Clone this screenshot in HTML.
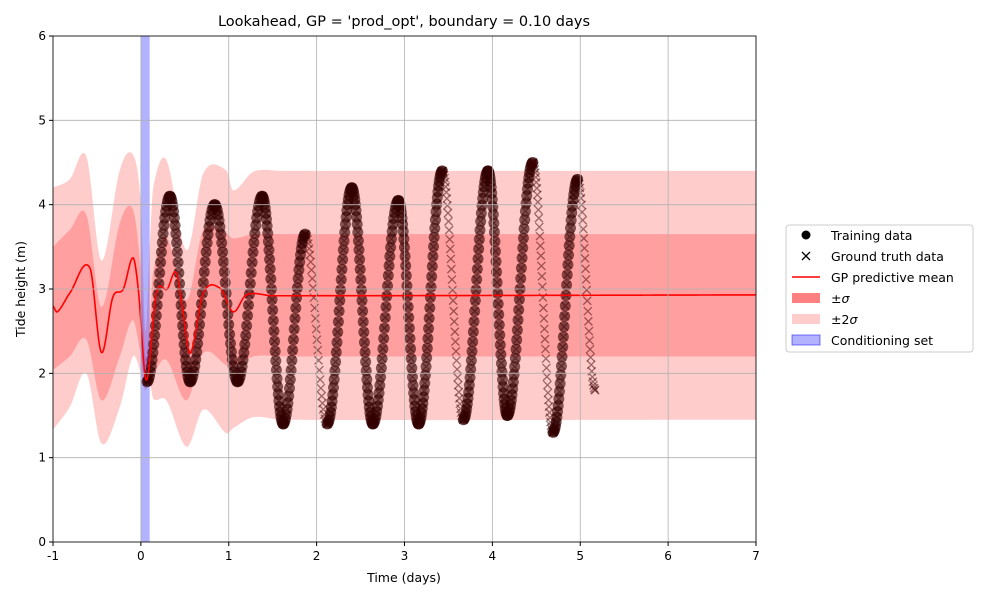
<!DOCTYPE html>
<html><head><meta charset="utf-8"><style>
body{margin:0;background:#fff;font-family:"Liberation Sans","DejaVu Sans",sans-serif}
</style></head><body>
<svg id="chart" width="1000" height="600" xmlns="http://www.w3.org/2000/svg" font-family="DejaVu Sans, Liberation Sans, sans-serif"></svg>
<script>
// ---- data ----
const meanT=[-1,-0.95,-0.81,-0.58,-0.45,-0.32,-0.2,-0.09,-0.03,0.062,0.176,0.3,0.40,0.47,0.56,0.71,0.90,1.05,1.2,1.5,7];
const meanV=[2.8,2.73,2.95,3.25,2.25,2.9,3.0,3.37,3.0,1.92,2.95,3.0,3.2,2.8,2.24,2.95,3.01,2.73,2.93,2.92,2.93];
const bandT=[-1,-0.81,-0.62,-0.45,-0.24,-0.09,0.0,0.05,0.1,0.14,0.29,0.52,0.71,0.97,1.05,1.28,1.6,7];
const up2=[4.2,4.3,4.57,3.34,4.41,4.59,4.0,2.5,3.5,4.2,4.53,3.46,4.37,4.41,4.17,4.39,4.4,4.4];
const lo2=[1.33,1.6,2.0,1.17,1.6,2.2,2.0,1.8,1.9,1.7,1.68,1.13,1.57,1.29,1.35,1.48,1.45,1.45];
const up1=[3.5,3.7,3.88,2.79,3.78,3.94,3.2,2.2,2.6,3.2,3.62,2.87,3.7,3.66,3.6,3.65,3.65,3.65];
const lo1=[2.04,2.2,2.4,1.68,2.2,2.63,2.2,1.9,1.95,2.0,2.16,1.68,2.24,2.1,2.07,2.2,2.2,2.2];
// tide extremes: [time, height]
const extT=[0.07,0.33,0.56,0.84,1.1,1.38,1.62,1.87,2.12,2.4,2.64,2.93,3.16,3.43,3.67,3.95,4.17,4.46,4.69,4.97,5.17];
const extH=[1.9,4.1,1.9,4.0,1.9,4.1,1.4,3.65,1.4,4.2,1.4,4.05,1.4,4.4,1.45,4.4,1.5,4.5,1.3,4.3,1.8];
// whether stroke i (between extreme i and i+1) is training data
const strokeTrain=[1,1,1,1,1,1,1,0,1,1,1,1,1,0,1,1,1,0,1,0];
const xTicks=[-1,0,1,2,3,4,5,6,7];
const yTicks=[0,1,2,3,4,5,6];
// ---- scales ----
const X0=53,X1=756,Y0=542,Y1=36;
const xs=t=>X0+(t+1)/8*(X1-X0);
const ys=v=>Y0-v/6*(Y0-Y1);
const svg=document.getElementById('chart');
const NS='http://www.w3.org/2000/svg';
function mk(tag,attrs,parent){const e=document.createElementNS(NS,tag);for(const k in attrs)e.setAttribute(k,attrs[k]);(parent||svg).appendChild(e);return e;}
// monotone-ish smooth interpolation (Catmull-Rom in value, clamped)
function smooth(T,V,t){const n=T.length;if(t<=T[0])return V[0];if(t>=T[n-1])return V[n-1];
let i=0;while(t>T[i+1])i++;const u=(t-T[i])/(T[i+1]-T[i]);
const p0=V[Math.max(i-1,0)],p1=V[i],p2=V[i+1],p3=V[Math.min(i+2,n-1)];
const m1=(T[i+1]-T[i])*(p2-p0)/(T[Math.min(i+1,n-1)]-T[Math.max(i-1,0)]);
const m2=(T[i+1]-T[i])*(p3-p1)/(T[Math.min(i+2,n-1)]-T[i]);
const u2=u*u,u3=u2*u;return (2*u3-3*u2+1)*p1+(u3-2*u2+u)*m1+(-2*u3+3*u2)*p2+(u3-u2)*m2;}
const clip=mk('clipPath',{id:'pc'});mk('rect',{x:X0,y:Y1,width:X1-X0,height:Y0-Y1},clip);
const g=mk('g',{'clip-path':'url(#pc)'});

function band(U,L,color,name){let up=[],lo=[];for(let t=-1;t<=7.001;t+=0.005){up.push(xs(t)+','+ys(smooth(bandT,U,t)));lo.unshift(xs(t)+','+ys(smooth(bandT,L,t)));}
const p=mk('polygon',{points:up.concat(lo).join(' '),fill:color},g);}
band(up2,lo2,'#ffcccc','two-sigma-band');
band(up1,lo1,'#ff9f9f','one-sigma-band');
// grid
xTicks.forEach(t=>{const l=mk('line',{x1:xs(t),x2:xs(t),y1:Y1,y2:Y0,stroke:'#b0b0b0','stroke-width':0.8});});
yTicks.forEach(v=>{const l=mk('line',{x1:X0,x2:X1,y1:ys(v),y2:ys(v),stroke:'#b0b0b0','stroke-width':0.8});});
// conditioning set
const cs=mk('rect',{x:xs(0),y:Y1,width:xs(0.1)-xs(0),height:Y0-Y1,fill:'rgba(0,0,255,0.3)'},g);

// points
const pts=mk('g',{},g);
for(let i=0;i<extT.length-1;i++){const n=Math.max(8,Math.round(Math.abs(extH[i+1]-extH[i])/0.08));
for(let j=0;j<=n;j++){const f=j/n;const t=extT[i]+f*(extT[i+1]-extT[i]);const h=extH[i]+(1-Math.cos(Math.PI*f))/2*(extH[i+1]-extH[i]);const cx=xs(t),cy=ys(h);
const c=mk('path',{d:`M${cx-4},${cy-4}L${cx+4},${cy+4}M${cx-4},${cy+4}L${cx+4},${cy-4}`,stroke:'rgba(60,0,0,0.5)','stroke-width':1.3,fill:'none'},pts);

if(strokeTrain[i]){const d=mk('circle',{cx:cx,cy:cy,r:5.5,fill:'rgba(50,0,0,0.6)'},pts);}}}
// mean
let md='';for(let t=-1;t<=7.001;t+=0.004){md+=(md?'L':'M')+xs(t).toFixed(2)+','+ys(smooth(meanT,meanV,t)).toFixed(2);}
const ml=mk('path',{d:md,stroke:'#ff0000','stroke-width':1.6,fill:'none'},g);
// axes frame
const fr=mk('rect',{x:X0,y:Y1,width:X1-X0,height:Y0-Y1,fill:'none',stroke:'#000','stroke-width':0.8});
xTicks.forEach(t=>{mk('line',{x1:xs(t),x2:xs(t),y1:Y0,y2:Y0+4,stroke:'#000'});const tx=mk('text',{x:xs(t),y:Y0+18,'text-anchor':'middle','font-size':12});tx.textContent=t;});
yTicks.forEach(v=>{mk('line',{x1:X0-4,x2:X0,y1:ys(v),y2:ys(v),stroke:'#000'});const tx=mk('text',{x:X0-7,y:ys(v)+4,'text-anchor':'end','font-size':12});tx.textContent=v;});
</script>
<svg style="position:absolute;left:0;top:0" width="1000" height="600" font-family="DejaVu Sans, Liberation Sans, sans-serif">
<text x="404" y="26" text-anchor="middle" font-size="14.5">Lookahead, GP = 'prod_opt', boundary = 0.10 days</text>
<text x="404" y="582" text-anchor="middle" font-size="12.5">Time (days)</text>
<text transform="translate(25,289) rotate(-90)" text-anchor="middle" font-size="12.5">Tide height (m)</text>
<g font-size="12.5">
<rect x="786" y="225" width="187" height="127" rx="3" fill="#fff" stroke="#ccc"/>
<circle cx="806" cy="235" r="4.5" fill="#000"/><text x="831" y="240">Training data</text>
<path d="M802,252L810,260M802,260L810,252" stroke="#000" stroke-width="1.3"/><text x="831" y="261">Ground truth data</text>
<line x1="792" x2="820" y1="277" y2="277" stroke="#f00" stroke-width="1.5"/><text x="831" y="282">GP predictive mean</text>
<rect x="792" y="293" width="28" height="10" fill="#ff8080"/><text x="831" y="303">±<tspan font-style="italic">σ</tspan></text>
<rect x="792" y="314" width="28" height="10" fill="#ffcccc"/><text x="831" y="324">±2<tspan font-style="italic">σ</tspan></text>
<rect x="792" y="335" width="28" height="10" fill="rgba(0,0,255,0.3)" stroke="rgba(0,0,255,0.5)"/><text x="831" y="345">Conditioning set</text>
</g>
</svg>
</body></html>
